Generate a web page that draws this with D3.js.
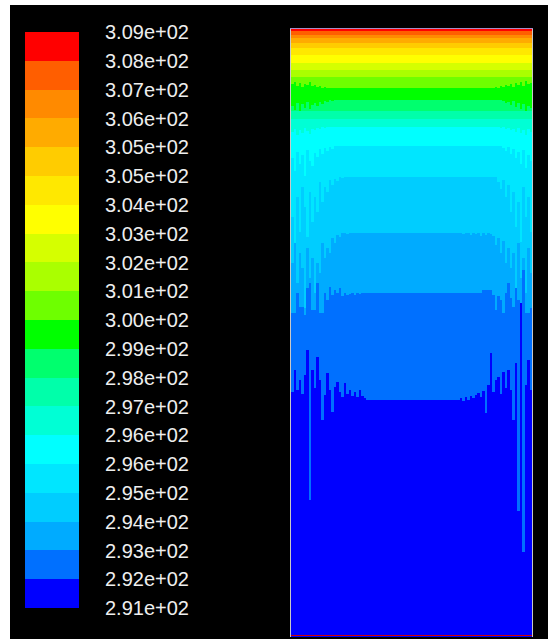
<!DOCTYPE html>
<html>
<head>
<meta charset="utf-8">
<script src="https://cdn.jsdelivr.net/npm/d3@7"></script>
<style>
  html, body { margin: 0; padding: 0; background: #ffffff; }
  svg { display: block; }
</style>
</head>
<body>
<svg id="chart" width="548" height="639"></svg>
<script>
// Static temperature contours (K) in a cavity, 20 filled levels.
const levelLabels = [
  "3.09e+02", "3.08e+02", "3.07e+02", "3.06e+02", "3.05e+02", "3.05e+02",
  "3.04e+02", "3.03e+02", "3.02e+02", "3.01e+02", "3.00e+02", "2.99e+02",
  "2.98e+02", "2.97e+02", "2.96e+02", "2.96e+02", "2.95e+02", "2.94e+02",
  "2.93e+02", "2.92e+02", "2.91e+02"
];

// Colormap, warmest band first.
const colormap = [
  "#ff0000", "#ff5e00", "#ff8a00", "#ffab00", "#ffcc00", "#ffe800",
  "#ffff00", "#d5ff00", "#aaff00", "#6eff00", "#00ff00", "#00ff6e",
  "#00ffaa", "#00ffd5", "#00ffff", "#00e6ff", "#00cdff", "#00abff",
  "#0070ff", "#0000ff"
];

// Cavity size (mm) and depth from the top (mm) where each level is crossed on the centreline.
const cavityWidth = 241;
const cavityHeight = 608;
const levelDepths = [2, 6, 9, 14, 19, 26, 34, 41, 48, 59, 71, 82, 90, 98, 117, 148, 204, 264, 371];

// Near-wall cells: 30 columns of 2.5 mm on each side; depth shift (mm) of a level per column.
const wallColumns = 30;
const wallColumnWidth = 2.5;
const leftWallShift = {
  9:  [-4, -6, -2, -5, -1, -4, -3, -6, -2, -3, -1, -2, 0, -1, 0, 0, 0, 0, 0, 0, 0, 0, 0, 0, 0, 0, 0, 0, 0, 0],
  10: [6, 10, 3, 12, 4, 8, 2, 9, 5, 3, 6, 2, 4, 1, 2, 0, 1, 0, 0, 0, 0, 0, 0, 0, 0, 0, 0, 0, 0, 0],
  13: [5, 2, 8, 3, 6, 1, 4, 7, 2, 3, 1, 2, 0, 1, 0, 0, 0, 0, 0, 0, 0, 0, 0, 0, 0, 0, 0, 0, 0, 0],
  14: [12, 25, 6, 18, 9, 30, 4, 15, 20, 7, 11, 3, 8, 2, 5, 1, 3, 0, 0, 0, 0, 0, 0, 0, 0, 0, 0, 0, 0, 0],
  15: [40, 70, 20, 55, 10, 30, 60, 15, 45, 20, 35, 5, 25, 10, 15, 3, 8, 2, 4, 0, 1, 0, 0, 0, 0, 0, 0, 0, 0, 0],
  16: [30, 10, 50, 20, 35, 75, 15, 45, 25, 60, 30, 40, 10, 25, 15, 20, 5, 10, 2, 4, 0, 0, 1, 0, 0, 0, 0, 0, 0, 0],
  17: [20, 20, 0, 14, 14, 22, -5, -10, 17, 17, -10, 20, 20, 0, 7, -6, 2, -3, 0, -5, 3, 0, 2, 1, 0, 2, 0, 1, 0, 0],
  18: [-8, -30, -10, -20, -6, -25, -50, 100, -30, -12, -43, -20, 20, -5, -27, -10, 12, -13, -18, -8, -3, -17, -6, -10, -4, -8, -3, -10, -4, -2]
};
const rightWallShift = {
  9:  [0, 0, 0, 0, 0, 0, 0, 0, 0, 0, 0, 0, 0, 0, 0, -1, 0, -2, -1, -3, -2, -4, -1, -5, -3, -6, -2, -7, -4, -5],
  10: [0, 0, 0, 0, 0, 0, 0, 0, 0, 0, 0, 0, 0, 0, 0, 0, 0, 0, 1, 3, 2, 5, 1, 7, 3, 9, 4, 11, 6, 8],
  13: [0, 0, 0, 0, 0, 0, 0, 0, 0, 0, 0, 0, 0, 0, 0, 0, 0, 1, 0, 2, 1, 3, 2, 5, 1, 6, 3, 8, 2, 5],
  14: [0, 0, 0, 0, 0, 0, 0, 0, 0, 0, 0, 0, 0, 0, 0, 0, 0, 0, 2, 5, 1, 8, 3, 12, 6, 18, 4, 22, 9, 15],
  15: [0, 0, 0, 0, 0, 0, 0, 0, 0, 0, 0, 0, 0, 0, 0, 0, 5, 12, 3, 20, 8, 35, 15, 50, 25, 65, 10, 40, 20, 55],
  16: [0, 0, 1, 0, 0, 2, 0, 1, 0, 3, 0, 2, 0, 1, 3, 12, 5, 20, 8, 30, 15, 35, 20, 55, 10, 45, 25, 60, 15, 40],
  17: [0, 0, 0, 0, 0, 0, 0, 0, 0, 0, -3, -3, -3, -3, 2, 17, 3, 7, 20, 0, -10, 5, 14, -5, 7, 12, -23, 20, 20, 15],
  18: [0, -2, 1, -3, 0, -4, -2, -5, -7, -3, -9, 13, -15, -47, -8, -20, -23, -6, -28, -12, -30, -10, 20, -37, 111, -97, 152, -15, -40, -10]
};

const svg = d3.select("#chart");

// Black canvas
svg.append("rect")
  .attr("x", 10).attr("y", 5)
  .attr("width", 538).attr("height", 634)
  .attr("fill", "#000000");

// ---- Colour legend ----
const legendY = d3.scaleLinear().domain([0, colormap.length]).range([32, 608]);
const legend = svg.append("g");
legend.selectAll("rect")
  .data(colormap)
  .join("rect")
  .attr("x", 25)
  .attr("width", 54)
  .attr("y", (d, i) => legendY(i))
  .attr("height", (d, i) => legendY(i + 1) - legendY(i))
  .attr("fill", d => d)
  .attr("shape-rendering", "crispEdges");

legend.selectAll("text")
  .data(levelLabels)
  .join("text")
  .attr("x", 105)
  .attr("y", (d, i) => legendY(i))
  .attr("dy", "0.36em")
  .attr("fill", "#eeeeee")
  .style("font-family", "'Liberation Sans', Arial, sans-serif")
  .style("font-size", "20px")
  .text(d => d);

// ---- Contour field ----
const x = d3.scaleLinear().domain([0, cavityWidth]).range([291, 532]);
const y = d3.scaleLinear().domain([0, cavityHeight]).range([29, 637]);

function levelProfile(k) {
  const c = levelDepths[k];
  const L = leftWallShift[k];
  const R = rightWallShift[k];
  const pts = [];
  for (let i = 0; i < wallColumns; i++) pts.push([i * wallColumnWidth, c + (L ? L[i] : 0)]);
  pts.push([wallColumns * wallColumnWidth, c]);
  const rStart = cavityWidth - wallColumns * wallColumnWidth;
  for (let j = 0; j < wallColumns; j++) pts.push([rStart + j * wallColumnWidth, c + (R ? R[j] : 0)]);
  pts.push([cavityWidth, c + (R ? R[wallColumns - 1] : 0)]);
  return pts;
}

const clampDepth = v => Math.max(0, Math.min(cavityHeight, v));
const bandArea = d3.area()
  .x(d => x(d[0]))
  .y0(y(cavityHeight))
  .y1(d => y(clampDepth(d[1])))
  .curve(d3.curveStepAfter);

// Each band is filled from its upper level down to the floor, warmest first,
// so the next band covers everything below its own level.
const bands = colormap.map((color, k) => ({
  color,
  top: k === 0 ? [[0, 0], [cavityWidth, 0]] : levelProfile(k - 1)
}));

const field = svg.append("g");
field.selectAll("path")
  .data(bands)
  .join("path")
  .attr("d", d => bandArea(d.top))
  .attr("fill", d => d.color)
  .attr("shape-rendering", "crispEdges");

// Cavity walls
const walls = svg.append("g").attr("fill", "none").attr("shape-rendering", "crispEdges");
walls.append("line")
  .attr("x1", x(0) - 0.5).attr("x2", x(0) - 0.5)
  .attr("y1", y(0) - 1).attr("y2", y(cavityHeight))
  .attr("stroke", "#c8c8c8").attr("stroke-width", 1);
walls.append("line")
  .attr("x1", x(cavityWidth) + 0.5).attr("x2", x(cavityWidth) + 0.5)
  .attr("y1", y(0) - 1).attr("y2", y(cavityHeight))
  .attr("stroke", "#c8c8c8").attr("stroke-width", 1);
walls.append("line")
  .attr("x1", x(0) - 1).attr("x2", x(cavityWidth) + 1)
  .attr("y1", y(0) - 0.5).attr("y2", y(0) - 0.5)
  .attr("stroke", "#a68cc8").attr("stroke-width", 1);
walls.append("line")
  .attr("x1", x(0)).attr("x2", x(cavityWidth))
  .attr("y1", y(cavityHeight) - 1.5).attr("y2", y(cavityHeight) - 1.5)
  .attr("stroke", "#d00000").attr("stroke-width", 1.5);
</script>
</body>
</html>
